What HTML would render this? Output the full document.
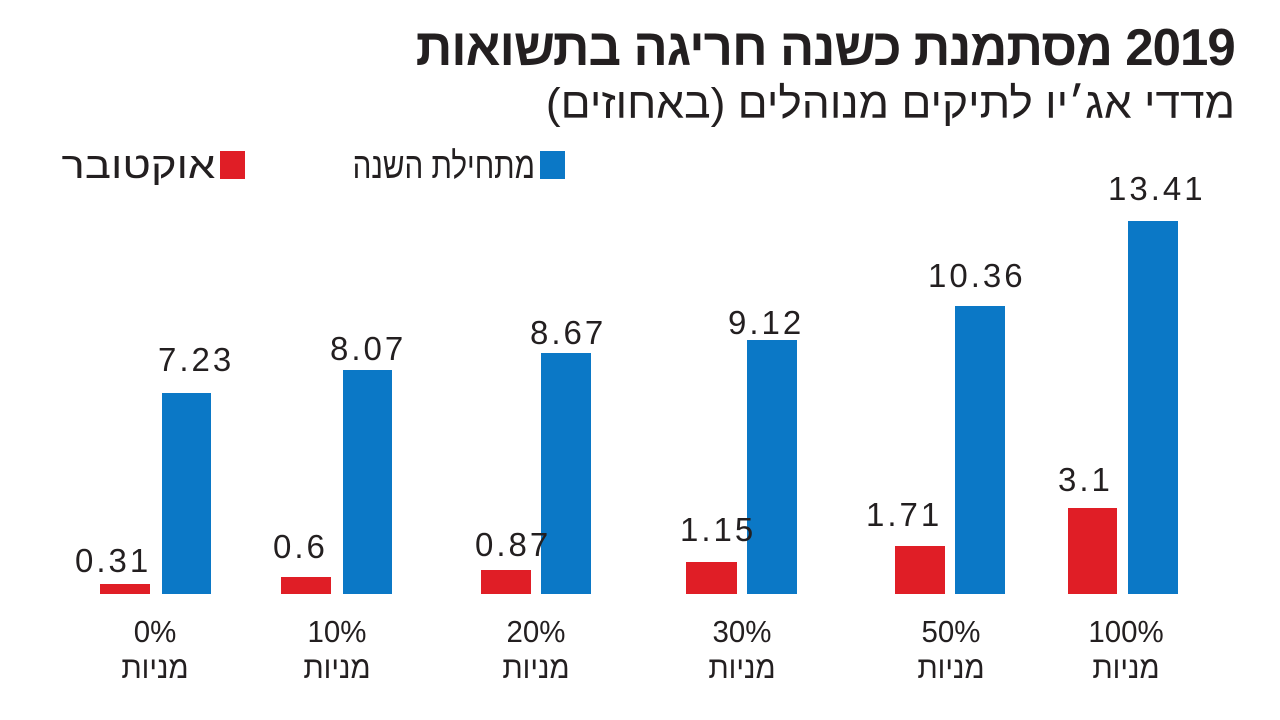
<!DOCTYPE html>
<html><head><meta charset="utf-8"><style>
body{margin:0;width:1280px;height:720px;background:#fff;position:relative;overflow:hidden;font-family:"Liberation Sans","DejaVu Sans",sans-serif;color:#231f20}
.a{position:absolute;white-space:nowrap}
.b{position:absolute;background:#0b78c6}
.r{position:absolute;background:#e01e26}
.v{position:absolute;font-size:33px;letter-spacing:3px;line-height:1;transform-origin:left top}
.c{position:absolute;width:120px;text-align:center;font-size:31px;line-height:1;transform:scaleX(0.95)}
.h{direction:rtl}
</style></head><body>
<div class="a h" style="right:45px;top:18px;font-size:52px;font-weight:bold;transform:scaleX(0.98);transform-origin:right top;letter-spacing:-1px">2019 מסתמנת כשנה חריגה בתשואות</div>
<div class="a h" style="right:45px;top:80px;font-size:43px;transform:scaleX(1.03);transform-origin:right top">מדדי אג׳יו לתיקים מנוהלים (באחוזים)</div>
<div class="b" style="left:540px;top:151px;width:25px;height:28px"></div>
<div class="a h" style="right:745px;top:145px;font-size:37px;transform:scaleX(0.8);transform-origin:right top">מתחילת השנה</div>
<div class="r" style="left:220px;top:151px;width:25px;height:28px"></div>
<div class="a h" style="right:1065px;top:145px;font-size:37px;transform:scaleX(1.18);transform-origin:right top">אוקטובר</div>

<div class="r" style="left:100px;top:584px;width:50px;height:10px"></div>
<div class="b" style="left:162px;top:393px;width:49px;height:201px"></div>
<div class="r" style="left:281px;top:577px;width:50px;height:17px"></div>
<div class="b" style="left:343px;top:370px;width:49px;height:224px"></div>
<div class="r" style="left:481px;top:570px;width:50px;height:24px"></div>
<div class="b" style="left:541px;top:353px;width:50px;height:241px"></div>
<div class="r" style="left:686px;top:562px;width:51px;height:32px"></div>
<div class="b" style="left:747px;top:340px;width:50px;height:254px"></div>
<div class="r" style="left:895px;top:546px;width:50px;height:48px"></div>
<div class="b" style="left:955px;top:306px;width:50px;height:288px"></div>
<div class="r" style="left:1068px;top:508px;width:49px;height:86px"></div>
<div class="b" style="left:1128px;top:221px;width:50px;height:373px"></div>

<div class="v" style="left:1108px;top:172px">13.41</div>
<div class="v" style="left:928px;top:259px">10.36</div>
<div class="v" style="left:728px;top:306px">9.12</div>
<div class="v" style="left:530px;top:316px">8.67</div>
<div class="v" style="left:330px;top:332px">8.07</div>
<div class="v" style="left:158px;top:343px">7.23</div>
<div class="v" style="left:1058px;top:463px">3.1</div>
<div class="v" style="left:866px;top:498px">1.71</div>
<div class="v" style="left:680px;top:513px">1.15</div>
<div class="v" style="left:475px;top:528px">0.87</div>
<div class="v" style="left:273px;top:530px">0.6</div>
<div class="v" style="left:75px;top:544px">0.31</div>

<div class="c" style="left:95px;top:616px">0%</div>
<div class="c h" style="left:95px;top:652px">מניות</div>
<div class="c" style="left:277px;top:616px">10%</div>
<div class="c h" style="left:277px;top:652px">מניות</div>
<div class="c" style="left:476px;top:616px">20%</div>
<div class="c h" style="left:476px;top:652px">מניות</div>
<div class="c" style="left:682px;top:616px">30%</div>
<div class="c h" style="left:682px;top:652px">מניות</div>
<div class="c" style="left:891px;top:616px">50%</div>
<div class="c h" style="left:891px;top:652px">מניות</div>
<div class="c" style="left:1066px;top:616px">100%</div>
<div class="c h" style="left:1066px;top:652px">מניות</div>
</body></html>
